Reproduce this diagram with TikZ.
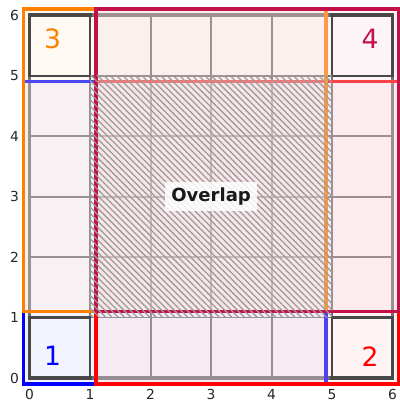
\documentclass[tikz,border=0pt]{standalone}
\usepackage{fontspec}
\setmainfont{DejaVu Sans}
\usetikzlibrary{patterns.meta}
\definecolor{cblue}{RGB}{0,0,255}
\definecolor{cred}{RGB}{255,0,0}
\definecolor{corange}{RGB}{255,128,0}
\definecolor{ccrimson}{RGB}{196,16,72}
\definecolor{gridc}{RGB}{62,62,62}
\definecolor{cornerc}{RGB}{72,72,72}
\definecolor{hatchc}{RGB}{155,155,155}
\begin{document}
\begin{tikzpicture}[x=1cm,y=1cm,
  gridline/.style={draw=gridc, line width=0.9pt},
  gridborder/.style={draw=gridc, line width=1.6pt},
  cornerin/.style={draw=cornerc, line width=1.0pt},
  cornerout/.style={draw=cornerc, line width=1.6pt, line cap=rect},
  win/.style={draw=#1, line width=1.6pt, fill=#1!15, fill opacity=0.3},
  cornerlabel/.style={text=#1, font=\fontsize{12.5}{12.5}\selectfont},
  tick/.style={font=\fontsize{6.5}{6.5}\selectfont, text=black!85, inner sep=0pt},
  ovlabel/.style={fill=white, fill opacity=0.85, text opacity=1, inner sep=2.8pt,
    font=\bfseries\fontsize{8.5}{8.5}\selectfont, text=black!90}
]
\useasboundingbox (-0.49,-0.38) rectangle (6.12,6.25);
% grid
\foreach \i in {1,...,5} {
  \draw[gridline] (\i,0) -- (\i,6);
  \draw[gridline] (0,\i) -- (6,\i);
}
\draw[gridborder] (0,0) rectangle (6,6);
% windows
\path[win=cblue] (-0.1,-0.1) rectangle (4.9,4.9);
\path[win=cred] (1.1,-0.1) rectangle (6.1,4.9);
\path[win=corange] (-0.1,1.1) rectangle (4.9,6.1);
\path[win=ccrimson] (1.1,1.1) rectangle (6.1,6.1);
% corner cells
\draw[cornerin] (0,0) rectangle (1,1);
\draw[cornerin] (5,0) rectangle (6,1);
\draw[cornerin] (0,5) rectangle (1,6);
\draw[cornerin] (5,5) rectangle (6,6);
\draw[cornerout] (0,1) -- (0,0) -- (1,0);
\draw[cornerout] (5,0) -- (6,0) -- (6,1);
\draw[cornerout] (0,5) -- (0,6) -- (1,6);
\draw[cornerout] (5,6) -- (6,6) -- (6,5);
% overlap hatch
\path[pattern={Lines[angle=-45,distance=2.1pt,line width=0.6pt]}, pattern color=hatchc]
  (1,1) rectangle (5,5);
\node[ovlabel] (ov) at (3,3) {Overlap};
% corner labels
\node[cornerlabel=cblue] (n1) at (0.38,0.36) {1};
\node[cornerlabel=cred] (n2) at (5.63,0.36) {2};
\node[cornerlabel=corange] (n3) at (0.38,5.6) {3};
\node[cornerlabel=ccrimson] (n4) at (5.63,5.6) {4};
% ticks
\foreach \i in {0,...,6} {
  \node[tick] (bx\i) at (\i,-0.27) {\i};
  \node[tick] (ly\i) at (-0.25,\i) {\i};
}
\end{tikzpicture}
\end{document}
